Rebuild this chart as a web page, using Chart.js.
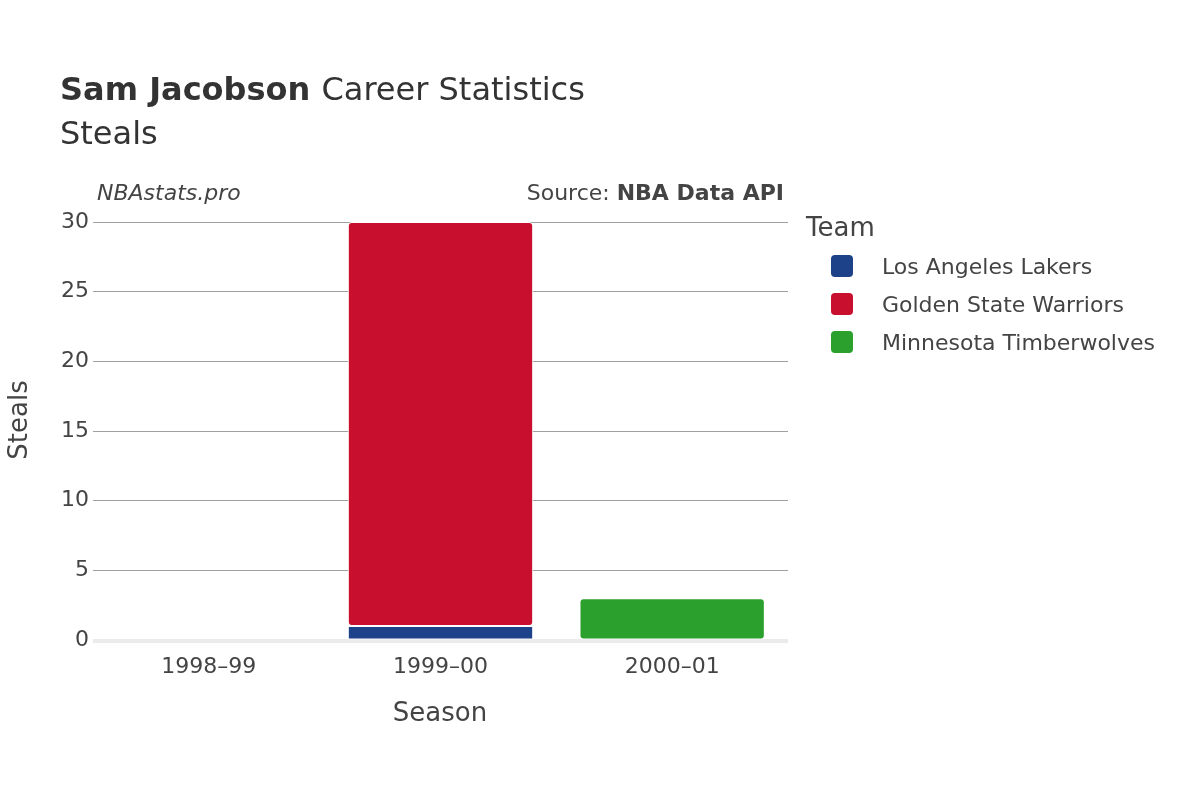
<!DOCTYPE html>
<html><head><meta charset="utf-8">
<script src="https://cdn.jsdelivr.net/npm/chart.js@4/dist/chart.umd.min.js"></script>
<style>html,body{margin:0;padding:0;background:#fff}#w{width:1200px;height:800px}</style>
</head><body><div id="w"><canvas id="c" width="1200" height="800"></canvas></div>
<script>
const seasons = ["1998–99","1999–00","2000–01"];
const teams = ["Los Angeles Lakers","Golden State Warriors","Minnesota Timberwolves"];
const colors = ["#1d428a","#c8102e","#2ca02c"];
const lakers = [0,1,null];
const warriors = [null,29,null];
const wolves = [null,null,3];
const yTicks = [0,5,10,15,20,25,30];
const F = "'DejaVu Sans', sans-serif";

const deco = {
  id:'deco',
  beforeDatasetsDraw(ch){
    const c=ch.ctx, y=ch.scales.y, a=ch.chartArea;
    c.save(); c.strokeStyle='#ebebeb'; c.lineWidth=4;
    c.beginPath(); c.moveTo(a.left,y.getPixelForValue(0)+1); c.lineTo(a.right,y.getPixelForValue(0)+1); c.stroke(); c.restore();
  },
  afterDraw(ch){
    const c=ch.ctx; c.save(); c.fillStyle='#333'; c.textBaseline='alphabetic';
    c.font="bold 32px "+F; c.textAlign='left'; c.fillText("Sam Jacobson",60,100);
    const w=c.measureText("Sam Jacobson ").width;
    c.font="32px "+F; c.fillText("Career Statistics",60+w,100);
    c.fillText("Steals",60,144);
    c.font="italic 22px "+F; c.fillStyle='#444'; c.fillText("NBAstats.pro",97,200);
    c.textAlign='right'; c.font="bold 22px "+F; c.fillText("NBA Data API",784,200);
    const bw=c.measureText("NBA Data API").width;
    c.font="22px "+F; c.fillText("Source: ",784-bw,200);
    c.textAlign='center'; c.font="26px "+F; c.fillText("Season",440,721);
    c.save(); c.translate(27,420); c.rotate(-Math.PI/2); c.fillText("Steals",0,0); c.restore();
    c.textAlign='left'; c.font="26px "+F; c.fillText("Team",806,236);
    c.font="22px "+F;
    teams.forEach((t,i)=>{const yy=266+i*38; c.fillStyle=colors[i];
      c.beginPath(); c.roundRect(831,yy-11,22,22,4); c.fill();
      c.fillStyle='#444'; c.fillText(t,882,yy+8);});
    c.restore();
  }
};

new Chart(document.getElementById('c'),{
  type:'bar',
  data:{labels:seasons,datasets:[lakers,warriors,wolves].map((d,i)=>({label:teams[i],data:d,backgroundColor:colors[i],borderColor:'#fff',borderWidth:1,borderRadius:4,borderSkipped:false,barPercentage:0.8,categoryPercentage:1}))},
  options:{responsive:false,animation:false,
    layout:{padding:{top:222,right:412,bottom:0,left:0}},
    plugins:{legend:{display:false},tooltip:{enabled:false},title:{display:false}},
    scales:{
      x:{stacked:true,grid:{display:false},border:{display:false},
        ticks:{font:{family:F,size:22},color:'#444',padding:6},
        afterFit(s){s.height=160;}},
      y:{stacked:true,min:0,max:30,grid:{color:'#a0a0a0',drawTicks:false},border:{display:false},
        afterBuildTicks(s){s.ticks=yTicks.map(v=>({value:v}));},
        ticks:{font:{family:F,size:22},color:'#444',padding:4},
        afterFit(s){s.width=93;}}
    }},
  plugins:[deco]
});
</script></body></html>
